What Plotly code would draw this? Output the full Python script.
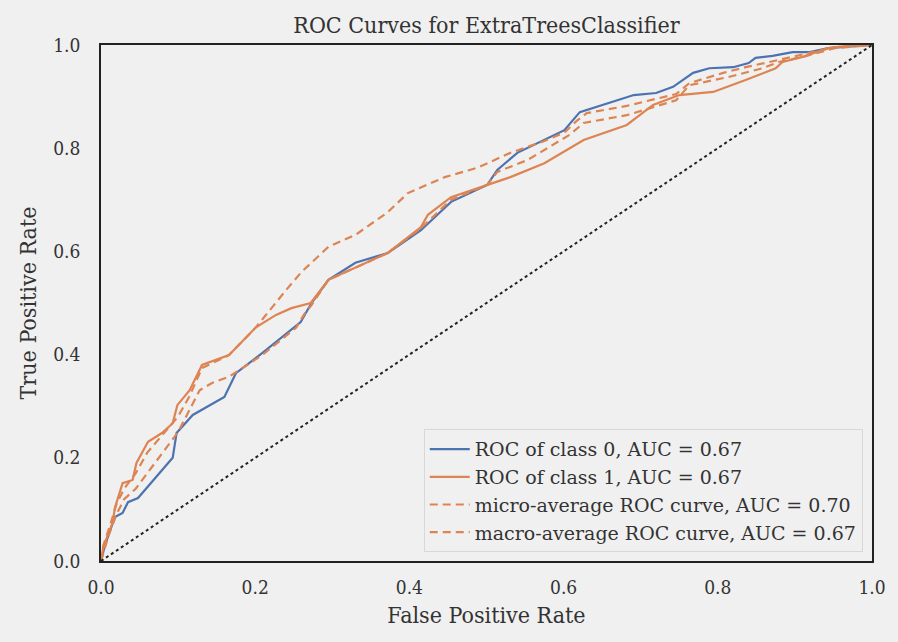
import plotly.graph_objects as go

# ---- data ----
class0_fpr = [0.0, 0.005, 0.012, 0.018, 0.028, 0.035, 0.048, 0.093, 0.098, 0.119, 0.160, 0.171,
              0.175, 0.209, 0.235, 0.259, 0.273, 0.295, 0.330, 0.372, 0.415, 0.454, 0.501, 0.514,
              0.540, 0.575, 0.601, 0.621, 0.652, 0.691, 0.720, 0.742, 0.768, 0.789, 0.820, 0.840,
              0.849, 0.871, 0.897, 0.918, 0.943, 1.0]
class0_tpr = [0.0, 0.03, 0.06, 0.085, 0.093, 0.114, 0.122, 0.200, 0.248, 0.283, 0.318, 0.351,
              0.364, 0.403, 0.434, 0.463, 0.500, 0.545, 0.578, 0.597, 0.641, 0.696, 0.729, 0.758,
              0.791, 0.816, 0.835, 0.870, 0.884, 0.903, 0.907, 0.919, 0.946, 0.955, 0.957, 0.965,
              0.975, 0.979, 0.986, 0.986, 0.994, 1.0]

class1_fpr = [0.0, 0.003, 0.015, 0.018, 0.028, 0.041, 0.046, 0.061, 0.079, 0.093, 0.099, 0.115,
              0.131, 0.166, 0.201, 0.227, 0.247, 0.272, 0.295, 0.372, 0.415, 0.424, 0.454, 0.501,
              0.531, 0.575, 0.626, 0.682, 0.716, 0.750, 0.794, 0.836, 0.875, 0.884, 0.910, 0.943,
              0.978, 1.0]
class1_tpr = [0.0, 0.027, 0.074, 0.103, 0.151, 0.157, 0.190, 0.231, 0.248, 0.267, 0.302, 0.331,
              0.380, 0.399, 0.453, 0.477, 0.490, 0.500, 0.545, 0.597, 0.647, 0.671, 0.705, 0.729,
              0.744, 0.771, 0.816, 0.845, 0.884, 0.903, 0.909, 0.932, 0.955, 0.967, 0.977, 0.994,
              1.0, 1.0]

micro_fpr = [0.0, 0.003, 0.012, 0.02, 0.03, 0.045, 0.06, 0.08, 0.1, 0.115, 0.131, 0.166, 0.201,
             0.240, 0.260, 0.295, 0.330, 0.372, 0.398, 0.446, 0.488, 0.531, 0.575, 0.601, 0.617,
             0.630, 0.682, 0.746, 0.763, 0.807, 0.836, 0.879, 0.918, 0.952, 1.0]
micro_tpr = [0.0, 0.03, 0.07, 0.11, 0.14, 0.17, 0.21, 0.245, 0.28, 0.32, 0.374, 0.399, 0.453,
             0.525, 0.560, 0.609, 0.632, 0.676, 0.713, 0.744, 0.762, 0.791, 0.814, 0.830, 0.853,
             0.868, 0.882, 0.905, 0.926, 0.946, 0.957, 0.971, 0.984, 0.996, 1.0]

macro_fpr = [0.0, 0.01, 0.02, 0.03, 0.045, 0.06, 0.08, 0.1, 0.128, 0.144, 0.166, 0.209, 0.253,
             0.263, 0.273, 0.295, 0.372, 0.415, 0.454, 0.501, 0.514, 0.553, 0.608, 0.626, 0.682,
             0.724, 0.746, 0.763, 0.814, 0.858, 0.879, 0.910, 0.952, 1.0]
macro_tpr = [0.0, 0.05, 0.09, 0.12, 0.14, 0.17, 0.21, 0.25, 0.331, 0.345, 0.357, 0.399, 0.452,
             0.477, 0.496, 0.545, 0.597, 0.645, 0.700, 0.729, 0.754, 0.777, 0.826, 0.849, 0.864,
             0.884, 0.893, 0.922, 0.938, 0.955, 0.967, 0.977, 0.994, 1.0]

diag = [0.0, 1.0]

labels = ["ROC of class 0, AUC = 0.67", "ROC of class 1, AUC = 0.67",
          "micro-average ROC curve, AUC = 0.70", "macro-average ROC curve, AUC = 0.67"]
tick_vals = [0.0, 0.2, 0.4, 0.6, 0.8, 1.0]
tick_text = ["0.0", "0.2", "0.4", "0.6", "0.8", "1.0"]

BLUE = "#4c72b0"
ORANGE = "#dd8452"
BG = "#f0f0f0"
COND = "DejaVu Serif Condensed, DejaVu Serif, serif"
SERIF = "DejaVu Serif, serif"

fig = go.Figure()
fig.add_trace(go.Scatter(x=class0_fpr, y=class0_tpr, mode="lines", name=labels[0],
                         line=dict(color=BLUE, width=2.2)))
fig.add_trace(go.Scatter(x=class1_fpr, y=class1_tpr, mode="lines", name=labels[1],
                         line=dict(color=ORANGE, width=2.2)))
fig.add_trace(go.Scatter(x=micro_fpr, y=micro_tpr, mode="lines", name=labels[2],
                         line=dict(color=ORANGE, width=2.2, dash="8px,5px")))
fig.add_trace(go.Scatter(x=macro_fpr, y=macro_tpr, mode="lines", name=labels[3],
                         line=dict(color=ORANGE, width=2.2, dash="8px,5px")))
fig.add_trace(go.Scatter(x=diag, y=diag, mode="lines", showlegend=False,
                         line=dict(color="#222222", width=2, dash="dot")))

axis_common = dict(range=[0, 1], tickvals=tick_vals, ticktext=tick_text, showgrid=False,
                   zeroline=False, showline=True, mirror=True, linecolor="#222222", linewidth=1.5,
                   ticks="outside", tickcolor="rgba(0,0,0,0)",
                   tickfont=dict(family=COND, size=19, color="#333333"))

fig.update_layout(
    width=898, height=642,
    margin=dict(l=101, r=21, t=45, b=81),
    paper_bgcolor=BG, plot_bgcolor=BG,
    title=dict(text="ROC Curves for ExtraTreesClassifier", x=0.5, xref="paper",
               y=1 - 25 / 642, yanchor="middle",
               font=dict(family=COND, size=23, color="#333333")),
    xaxis=dict(**axis_common, ticklen=8,
               title=dict(text="False Positive Rate", standoff=10,
                          font=dict(family=COND, size=23, color="#333333"))),
    yaxis=dict(**axis_common, ticklen=15,
               title=dict(text="True Positive Rate", standoff=10,
                          font=dict(family=COND, size=23, color="#333333"))),
    legend=dict(x=0.988, y=0.017, xanchor="right", yanchor="bottom",
                bgcolor=BG, bordercolor="#d8d8d8", borderwidth=1,
                font=dict(family=SERIF, size=19, color="#333333"),
                tracegroupgap=0, itemwidth=40),
    showlegend=True,
)

fig.write_html("out.html")
